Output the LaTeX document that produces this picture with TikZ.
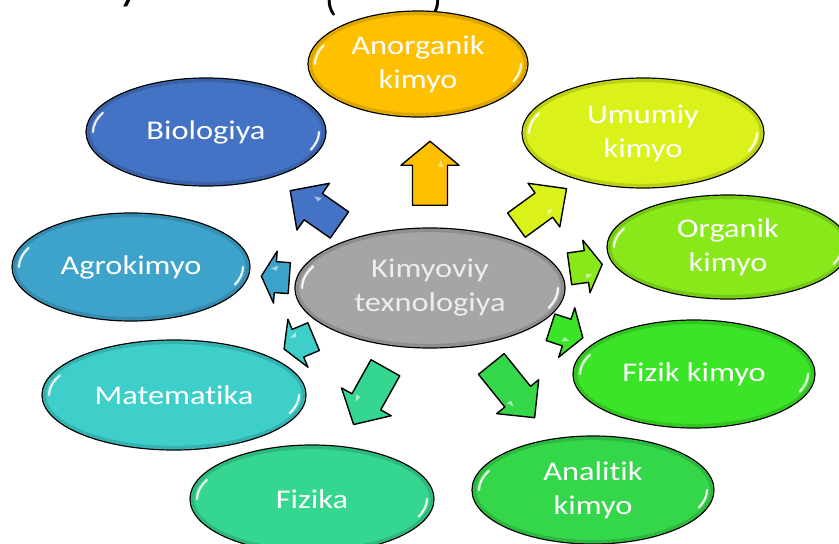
\documentclass[tikz,border=0pt]{standalone}
\usepackage{fontspec}
\setmainfont{Carlito}[FakeStretch=1.2, Ligatures=NoCommon]
\usetikzlibrary{shapes.geometric,calc}
\definecolor{cAnorg}{RGB}{255,192,0}
\definecolor{cBio}{RGB}{68,114,196}
\definecolor{cUmu}{RGB}{218,242,26}
\definecolor{cAgro}{RGB}{62,163,203}
\definecolor{cOrg}{RGB}{137,232,26}
\definecolor{cKim}{RGB}{165,165,165}
\definecolor{cMat}{RGB}{62,207,203}
\definecolor{cFizk}{RGB}{60,228,40}
\definecolor{cFiz}{RGB}{52,214,144}
\definecolor{cAnal}{RGB}{52,214,74}
\tikzset{
  blob/.style={ellipse, draw=black, line width=1.2pt, text=white, align=center,
    inner sep=0pt, font=\fontsize{27}{34}\selectfont},
  pics/barrow/.style args={#1/#2/#3/#4/#5}{code={
    \filldraw[fill=#5, draw=black, line width=1.4pt, line join=round]
      (0,0) -- (-#4,#3/2) -- (-#4,#2/2) -- (-#1,#2/2) -- (-#1,-#2/2)
      -- (-#4,-#2/2) -- (-#4,-#3/2) -- cycle;
    \fill[white, opacity=.55] (-#4-2,#2/2-4) -- (-#4+5,#2/2-7) -- (-#4-1,#2/2-9) -- cycle;
  }},
  frag/.style={font=\fontsize{34}{34}\selectfont, text=black, anchor=base, inner sep=0pt}
}
\newcommand\glossell[4]{%
  \begin{scope}[shift={(#1.center)}]
    \draw[#4!55!black, opacity=.3, line width=3pt] (0,0) ellipse [x radius=#2-2.6, y radius=#3-2.6];
    \draw[white, line width=2.2pt, line cap=round, opacity=.9]
      (180:#2-7 and #3-7) arc[start angle=180, end angle=204, x radius=#2-7, y radius=#3-7];
    \draw[white, line width=2.2pt, line cap=round, opacity=.9]
      (0:#2-7 and #3-7) arc[start angle=0, end angle=22, x radius=#2-7, y radius=#3-7];
  \end{scope}}
\begin{document}
\begin{tikzpicture}[x=1pt,y=-1pt]
\useasboundingbox (0,0) rectangle (839,544);
\fill[white] (0,0) rectangle (839,544);
\clip (0,0) rectangle (839,544);
% cut-off title fragments
\node[frag, font=\fontsize{40}{40}\selectfont] (fy) at (129,0) {y};
\node[frag] (fl) at (331,11) {(};
\node[frag] (fr) at (436,11) {)};
% ellipses
\node[blob, fill=cAnorg, minimum width=220pt, minimum height=106pt] (anorg) at (418,64) {Anorganik\\kimyo};
\node[blob, fill=cBio, minimum width=240pt, minimum height=108pt] (bio) at (206,132) {Biologiya};
\node[blob, fill=cUmu, minimum width=242pt, minimum height=110pt] (umu) at (643,133) {Umumiy\\kimyo};
\node[blob, fill=cAgro, minimum width=238pt, minimum height=108pt] (agro) at (131,267) {Agrokimyo};
\node[blob, fill=cOrg, minimum width=242pt, minimum height=104pt] (org) at (728,247) {Organik\\kimyo};
\node[blob, fill=cKim, text=white!93!black, minimum width=270pt, minimum height=120pt] (kim) at (430,288) {Kimyoviy\\texnologiya};
\node[blob, fill=cMat, minimum width=264pt, minimum height=110pt] (mat) at (174,395) {Matematika};
\node[blob, fill=cFizk, minimum width=242pt, minimum height=108pt] (fizk) at (694,374) {Fizik kimyo};
\node[blob, fill=cFiz, minimum width=244pt, minimum height=108pt] (fiz) at (312,499) {Fizika};
\node[blob, fill=cAnal, minimum width=242pt, minimum height=108pt] (anal) at (593,490) {Analitik\\kimyo};
% gloss
\glossell{anorg}{110}{53}{cAnorg}
\glossell{bio}{120}{54}{cBio}
\glossell{umu}{121}{55}{cUmu}
\glossell{agro}{119}{54}{cAgro}
\glossell{org}{121}{52}{cOrg}
\glossell{kim}{135}{60}{cKim}
\glossell{mat}{132}{55}{cMat}
\glossell{fizk}{121}{54}{cFizk}
\glossell{fiz}{122}{54}{cFiz}
\glossell{anal}{121}{54}{cAnal}
% block arrows
\begin{scope}[allow upside down]
\path (kim.center) -- (kim.center |- anorg.center) pic[pos=0.655, sloped] {barrow=64/35/58/24/cAnorg};
\path (kim.center) -- (bio.center) pic[pos=0.624, sloped] {barrow=60/32/57/28/cBio};
\path (kim.center) -- (umu.center) pic[pos=0.641, sloped] {barrow=62/30/54/28/cUmu};
\path (kim.center) -- (agro.center) pic[pos=0.564, sloped] {barrow=28/31/52/14/cAgro};
\path (kim.center) -- (org.center) pic[pos=0.578, sloped] {barrow=33/32/53/16/cOrg};
\path (kim.center) -- (fizk.center) pic[pos=0.579, sloped] {barrow=34/28/52/17/cFizk};
\path (kim.center) -- (mat.center) pic[pos=0.57, sloped] {barrow=32/30/52/15/cMat};
\path (kim.center) -- (fiz.center) pic[pos=0.647, sloped] {barrow=65/33/57/26/cFiz};
\path (kim.center) -- (anal.center) pic[pos=0.642, sloped] {barrow=69/33/54/27/cAnal};
\end{scope}
\end{tikzpicture}
\end{document}
